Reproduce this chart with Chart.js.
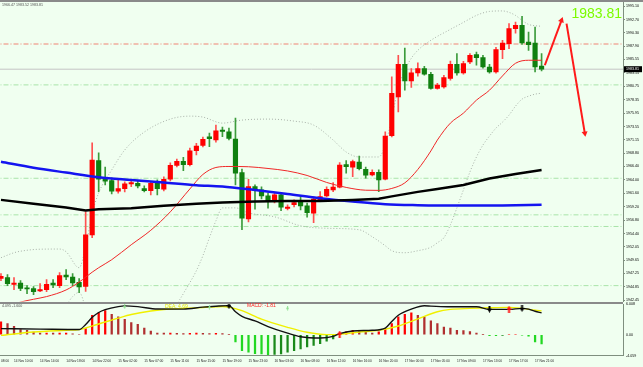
<!DOCTYPE html>
<html>
<head>
<meta charset="utf-8">
<title>XAUUSD H1</title>
<script src="https://cdn.jsdelivr.net/npm/chart.js@4.4.0/dist/chart.umd.min.js"></script>
<style>
  body { margin: 0; background: #f0fff0; }
  #wrap { position: relative; width: 643px; height: 367px; overflow: hidden; background: #f0fff0; }
  #topbar { position: absolute; left: 0; top: 0; width: 643px; height: 2px; background: #8a8a8a; }
  #sep { position: absolute; left: 0; top: 302px; width: 623px; height: 2px; background: #8a8a8a; }
  #main { position: absolute; left: 0; top: 0; }
  #macd { position: absolute; left: 0; top: 302px; }
</style>
</head>
<body>
<div id="wrap">
  <div id="topbar"></div>
  <div id="sep"></div>
  <canvas id="main" width="643" height="304"></canvas>
  <canvas id="macd" width="643" height="65"></canvas>
</div>
<script>
'use strict';

// ---------- data ----------
const timeTickBars = [0, 2, 6, 10, 14, 18, 22, 26, 30, 34, 38, 42, 46, 50, 54, 58, 62, 66, 70, 74, 78, 82];
const timeTickLabels = ['08:00', '14 Nov 10:00', '14 Nov 14:00', '14 Nov 18:00', '14 Nov 22:00', '15 Nov 02:00',
  '15 Nov 07:00', '15 Nov 11:00', '15 Nov 15:00', '15 Nov 19:00', '15 Nov 23:00', '16 Nov 03:00', '16 Nov 08:00',
  '16 Nov 12:00', '16 Nov 16:00', '16 Nov 20:00', '17 Nov 00:00', '17 Nov 05:00', '17 Nov 09:00', '17 Nov 13:00',
  '17 Nov 17:00', '17 Nov 21:00'];
const priceTicks = [1995.10, 1992.70, 1990.30, 1987.90, 1985.55, 1983.15, 1980.75, 1978.35, 1975.95, 1973.55,
  1971.15, 1968.80, 1966.40, 1964.00, 1961.60, 1959.20, 1956.80, 1954.40, 1952.05, 1949.65, 1947.25, 1944.85, 1942.45];
const macdTicks = [6.008, 0, -4.059];

const opens = [1946.38, 1946.50, 1945.30, 1945.55, 1944.59, 1944.54, 1944.13, 1944.36, 1945.55, 1945.07,
  1946.98, 1946.62, 1945.66, 1944.95, 1954.17, 1967.44, 1964.12, 1963.87, 1961.97, 1962.44,
  1963.28, 1963.40, 1962.44, 1962.08, 1963.40, 1962.33, 1964.12, 1966.61, 1967.33, 1966.72,
  1969.22, 1970.18, 1971.72, 1971.13, 1972.92, 1972.61, 1971.31, 1965.29, 1957.03, 1962.80,
  1962.21, 1961.14, 1960.30, 1961.31, 1958.87, 1959.58, 1960.12, 1959.35, 1958.05, 1960.42,
  1961.14, 1962.21, 1962.69, 1966.72, 1966.26, 1967.20, 1965.90, 1964.88, 1965.37, 1964.12,
  1971.90, 1978.86, 1984.69, 1981.71, 1983.14, 1983.93, 1982.91, 1980.36, 1980.64, 1982.14,
  1984.69, 1983.14, 1985.11, 1986.43, 1985.89, 1984.21, 1983.32, 1987.32, 1988.39, 1991.07,
  1991.66, 1988.67, 1988.50, 1984.39];
const highs = [1947.21, 1947.04, 1946.50, 1945.96, 1945.07, 1944.89, 1945.43, 1946.14, 1946.14, 1947.39,
  1947.93, 1947.21, 1946.32, 1958.28, 1970.65, 1968.86, 1966.31, 1964.35, 1963.99, 1963.63,
  1963.99, 1963.81, 1962.92, 1963.69, 1963.99, 1964.53, 1967.03, 1967.74, 1968.04, 1969.70,
  1970.54, 1971.67, 1972.38, 1973.81, 1973.45, 1973.27, 1975.06, 1965.95, 1964.12, 1963.10,
  1962.74, 1961.67, 1961.67, 1961.72, 1959.53, 1960.42, 1961.01, 1959.83, 1960.96, 1961.90,
  1962.74, 1963.51, 1967.08, 1967.44, 1967.56, 1968.27, 1966.31, 1965.78, 1965.78, 1972.61,
  1982.43, 1986.30, 1987.60, 1983.93, 1984.93, 1984.34, 1983.27, 1981.30, 1982.73, 1985.28,
  1986.60, 1985.23, 1986.60, 1986.89, 1986.30, 1984.69, 1987.73, 1988.98, 1991.96, 1992.24,
  1993.26, 1990.46, 1991.35, 1986.60];
const lows = [1945.96, 1945.07, 1944.36, 1944.18, 1943.64, 1943.47, 1944.00, 1944.00, 1944.72, 1944.72,
  1946.14, 1945.07, 1943.82, 1944.05, 1953.64, 1961.90, 1963.10, 1961.49, 1961.62, 1961.85,
  1962.80, 1962.56, 1961.85, 1961.31, 1961.31, 1962.03, 1963.81, 1966.31, 1965.65, 1966.49,
  1968.45, 1969.88, 1969.93, 1970.77, 1971.72, 1971.13, 1963.10, 1955.07, 1956.49, 1958.76,
  1960.60, 1958.94, 1959.89, 1958.51, 1958.64, 1959.17, 1958.64, 1957.33, 1956.32, 1960.30,
  1960.96, 1961.90, 1962.56, 1965.19, 1964.58, 1965.78, 1964.29, 1964.71, 1961.90, 1963.99,
  1971.67, 1976.18, 1980.05, 1980.54, 1982.55, 1982.73, 1980.23, 1980.23, 1980.41, 1981.84,
  1982.73, 1982.91, 1984.82, 1984.52, 1983.98, 1983.09, 1983.09, 1985.71, 1987.50, 1990.28,
  1988.26, 1987.19, 1983.32, 1983.50];
const closes = [1946.73, 1945.43, 1945.55, 1944.59, 1944.48, 1944.00, 1944.36, 1945.30, 1945.20, 1946.86,
  1946.62, 1945.55, 1944.84, 1954.17, 1967.56, 1964.12, 1963.76, 1961.97, 1962.44, 1963.28,
  1963.51, 1962.92, 1962.08, 1963.40, 1962.44, 1964.12, 1966.61, 1967.33, 1966.72, 1969.22,
  1970.06, 1971.26, 1971.36, 1972.79, 1972.68, 1971.43, 1965.19, 1957.15, 1962.80, 1962.08,
  1961.14, 1960.30, 1961.31, 1959.12, 1959.12, 1959.94, 1959.35, 1958.15, 1960.55, 1961.01,
  1962.33, 1962.69, 1966.67, 1966.36, 1967.26, 1966.01, 1964.83, 1965.37, 1963.99, 1971.84,
  1979.47, 1984.69, 1981.71, 1983.14, 1983.93, 1982.91, 1980.36, 1980.95, 1982.32, 1984.69,
  1983.14, 1984.82, 1986.30, 1985.89, 1984.21, 1983.32, 1987.32, 1988.50, 1991.07, 1991.66,
  1988.50, 1988.21, 1984.21, 1983.81];

// moving averages, sampled at bar positions
const redMaBars = [0, 3, 5, 7, 10, 12, 13, 14, 15, 17, 20, 23, 26, 29, 31, 33, 35, 38, 41, 44, 47, 50, 53, 56, 58,
  60, 62, 64, 66, 67, 69, 71, 73, 75, 77, 79, 81, 83];
const redMaValues = [1941.0, 1942.13, 1942.63, 1943.11, 1944.30, 1945.70, 1946.59, 1947.48, 1948.28, 1949.71,
  1952.39, 1954.98, 1958.28, 1962.38, 1964.97, 1966.22, 1966.40, 1966.35, 1966.04, 1965.60, 1964.79, 1963.54,
  1962.65, 1962.15, 1962.12, 1962.47, 1963.46, 1965.87, 1969.17, 1971.13, 1974.16, 1975.95, 1978.27, 1980.05,
  1982.61, 1984.87, 1985.41, 1985.41];
const blueMaBars = [0, 5, 10, 15, 20, 25, 30, 34, 39, 44, 49, 54, 59, 64, 70, 77, 83];
const blueMaValues = [1967.24, 1966.17, 1965.31, 1964.49, 1963.99, 1963.53, 1963.06, 1962.81, 1962.17, 1961.47,
  1960.72, 1960.12, 1959.65, 1959.48, 1959.40, 1959.42, 1959.53];
const blackMaBars = [0, 5, 10, 13, 15, 20, 25, 30, 34, 39, 44, 49, 54, 58, 60, 64, 67, 71, 75, 79, 83];
const blackMaValues = [1960.42, 1959.71, 1959.06, 1958.53, 1958.76, 1958.94, 1959.35, 1959.71, 1959.96, 1960.12,
  1960.24, 1960.24, 1960.42, 1960.64, 1961.05, 1961.85, 1962.38, 1963.10, 1964.26, 1965.06, 1965.78];

// bollinger bands
const bbUpperBars = [0, 2, 3, 6, 9, 10, 12, 13, 14, 15, 17, 19, 22, 26, 29, 31, 34, 37, 41, 45, 48, 51, 53, 55,
  58, 59, 60, 61, 62, 63, 64, 66, 69, 71, 73, 75, 77, 78, 79, 80, 81, 83];
const bbUpperValues = [1950.07, 1950.96, 1951.23, 1951.59, 1951.62, 1951.14, 1948.28, 1952.03, 1957.92, 1961.67,
  1965.78, 1969.35, 1972.56, 1974.88, 1975.41, 1975.24, 1974.16, 1974.70, 1974.88, 1974.52, 1973.81, 1971.13,
  1968.99, 1968.10, 1968.10, 1970.24, 1975.06, 1980.41, 1983.62, 1985.77, 1987.19, 1988.98, 1990.94, 1992.19,
  1993.44, 1994.15, 1994.24, 1993.98, 1993.44, 1992.55, 1991.83, 1991.48];
const bbLowerBars = [0, 8, 10, 11, 12, 13, 14, 20, 26, 27, 28, 29, 30, 31, 32, 33, 34, 36, 38, 42, 46, 50, 55, 57,
  59, 60, 62, 64, 66, 67, 68, 69, 70, 71, 72, 73, 74, 75, 76, 77, 78, 79, 80, 81, 82, 83];
const bbLowerValues = [1939.5, 1940.0, 1941.6, 1943.11, 1943.88, 1940.8, 1935.0, 1930.0, 1938.0, 1941.50, 1943.64,
  1945.61, 1947.75, 1950.43, 1953.64, 1956.67, 1958.99, 1958.99, 1958.10, 1957.39, 1955.78, 1955.34, 1955.07,
  1953.82, 1952.21, 1951.32, 1950.96, 1951.32, 1951.94, 1952.75, 1953.64, 1955.96, 1958.99, 1962.21, 1965.42,
  1968.10, 1970.24, 1971.84, 1973.27, 1974.34, 1975.59, 1977.20, 1978.45, 1978.98, 1979.34, 1979.52];

// horizontal levels
const greenLevels = [1981.00, 1964.29, 1957.74, 1955.66, 1945.07];
const redLevels = [1988.32];

// forecast arrows drawn on the chart (bar, price)
const upArrowBars = [83.5, 86.06];
const upArrowPrices = [1984.52, 1992.55];
const downArrowBars = [86.83, 89.64];
const downArrowPrices = [1991.96, 1972.33];

// MACD panel
const macdHist = [2.5, 2.2, 1.65, 1.0, 0.87, 0.53, 0.34, 0.34, 0.3, 0.3,
  0.3, 0.2, 0.1, 1.2, 3.8, 4.3, 4.7, 4.0, 3.5, 3.0,
  2.4, 2.05, 1.3, 0.73, 0.34, 0.3, 0.3, 0.28, 0.25, 0.28,
  0.3, 0.28, 0.25, 0.28, 0.25, 0.05, -1.4, -3.1, -3.4, -3.7,
  -3.75, -3.9, -3.85, -3.75, -3.4, -3.1, -2.75, -2.4, -2.1, -1.75,
  -1.25, -0.8, 0.2, 0.55, 0.87, 0.8, 0.55, 0.34, 0.55, 1.2,
  2.2, 3.5, 4.0, 4.3, 3.8, 3.5, 2.7, 2.2, 1.5, 1.3,
  0.87, 0.8, 0.6, 0.34, 0.05, -0.2, -0.2, -0.15, 0.1, 0.1,
  -0.1, -0.3, -1.4, -1.81];
const difBars = [0, 6, 12, 13, 14, 15, 16, 18, 19, 21, 24, 28, 31, 33, 35, 36, 37, 39, 41, 44, 46, 49, 51, 52, 54,
  57, 59, 60, 61, 63, 65, 66, 69, 73, 75, 78, 80, 81, 82, 83];
const difValues = [1.20, 1.10, 1.01, 2.0, 3.4, 4.35, 4.9, 5.5, 5.65, 5.5, 5.02, 5.01, 5.4, 5.58, 5.7, 4.5, 3.6,
  2.7, 1.6, 0.3, -0.4, -0.65, -0.32, 0.22, 0.73, 0.87, 1.3, 2.6, 3.8, 5.0, 5.66, 5.6, 5.46, 5.46, 4.95, 4.95,
  5.15, 5.0, 4.6, 4.28];
const deaBars = [0, 5, 10, 12, 15, 18, 20, 23, 25, 28, 31, 34, 35, 37, 40, 44, 47, 50, 52, 55, 58, 61, 64, 67, 69,
  72, 75, 78, 80, 82, 83];
const deaValues = [-0.12, 0.53, 0.87, 1.01, 2.1, 3.25, 3.95, 4.64, 4.93, 5.15, 5.33, 5.52, 5.4, 4.7, 3.05, 1.45,
  0.48, 0.02, 0.08, 0.53, 0.85, 1.7, 3.1, 4.5, 4.95, 5.15, 5.28, 5.35, 5.15, 4.8, 4.67];
const sellArrowBars = [35, 75, 80];
const sellArrowValues = [5.7, 5.0, 5.15];
const buyArrowBars = [52, 78];
const buyArrowValues = [0.14, 5.0];
const hintArrowBars = [19, 32, 44];
const hintArrowValues = [5.5, 5.4, 5.2];

const headerText = '1966.47 1983.52 1983.81';
const macdHeaderText = '4.095 -1.600';
const deaText = 'DEA: 4.69';
const macdText = 'MACD: -1.81';

// ---------- helpers ----------
const xMin = -0.15;
const xMax = 95.5;
const bullColor = '#ff0000';
const bearColor = '#108010';
const fontFamily = '"Liberation Sans", Arial, sans-serif';

function pts(xs, ys) {
  return xs.map((x, i) => ({ x: x, y: ys[i] }));
}

function levelLine(value, color, dash) {
  return {
    type: 'line',
    data: [{ x: xMin - 1, y: value }, { x: xMax + 1, y: value }],
    borderColor: color,
    borderWidth: 1,
    borderDash: dash,
    pointRadius: 0,
    order: 20
  };
}

function arrowImage(color, dir, w, h) {
  const c = document.createElement('canvas');
  c.width = w;
  c.height = h;
  const g = c.getContext('2d');
  g.fillStyle = color;
  const sw = Math.max(1, Math.round(w / 3));
  const headH = Math.round(h / 2);
  if (dir === 'down') {
    g.fillRect((w - sw) / 2, 0, sw, h - headH);
    g.beginPath(); g.moveTo(0, h - headH); g.lineTo(w, h - headH); g.lineTo(w / 2, h); g.closePath(); g.fill();
  } else {
    g.fillRect((w - sw) / 2, headH, sw, h - headH);
    g.beginPath(); g.moveTo(0, headH); g.lineTo(w, headH); g.lineTo(w / 2, 0); g.closePath(); g.fill();
  }
  return c;
}

function isBull(i) {
  return closes[i] >= opens[i];
}

function histColor(ctx) {
  const i = ctx.dataIndex;
  const v = macdHist[i];
  const prev = i > 0 ? macdHist[i - 1] : v;
  if (v >= 0) {
    return v >= prev ? '#ff0000' : '#b03030';
  }
  return v <= prev ? '#22d822' : '#1a8a1a';
}

// ---------- main price panel ----------
const datasets = [];
greenLevels.forEach(v => datasets.push(levelLine(v, '#a8e4a8', [5, 2, 1, 2])));
redLevels.forEach(v => datasets.push(levelLine(v, '#f08474', [5, 2, 1, 2])));
datasets.push(levelLine(closes[closes.length - 1], '#c4c4c4', []));

datasets.push({
  type: 'line', data: pts(bbUpperBars, bbUpperValues), borderColor: '#a8b0a8', borderWidth: 1,
  borderDash: [1, 2], pointRadius: 0, cubicInterpolationMode: 'monotone', order: 15
});
datasets.push({
  type: 'line', data: pts(bbLowerBars, bbLowerValues), borderColor: '#a8b0a8', borderWidth: 1,
  borderDash: [1, 2], pointRadius: 0, cubicInterpolationMode: 'monotone', order: 15
});

// wicks then bodies
datasets.push({
  type: 'bar',
  data: lows.map((l, i) => ({ x: i, y: [l, highs[i]] })),
  backgroundColor: ctx => isBull(ctx.dataIndex) ? '#ff5050' : '#3c9c3c',
  barThickness: 1,
  grouped: false,
  order: 10
});
datasets.push({
  type: 'bar',
  data: opens.map((o, i) => ({ x: i, y: [o, closes[i]] })),
  backgroundColor: ctx => isBull(ctx.dataIndex) ? bullColor : bearColor,
  barThickness: 4.5,
  minBarLength: 1,
  grouped: false,
  order: 9
});

datasets.push({
  type: 'line', data: pts(redMaBars, redMaValues), borderColor: '#f02828', borderWidth: 1,
  pointRadius: 0, cubicInterpolationMode: 'monotone', order: 5
});
datasets.push({
  type: 'line', data: pts(blueMaBars, blueMaValues), borderColor: '#1414f0', borderWidth: 2.5,
  pointRadius: 0, cubicInterpolationMode: 'monotone', order: 4
});
datasets.push({
  type: 'line', data: pts(blackMaBars, blackMaValues), borderColor: '#000000', borderWidth: 2.5,
  pointRadius: 0, order: 3
});

datasets.push({
  type: 'line', data: pts(upArrowBars, upArrowPrices), borderColor: '#ff1a1a', borderWidth: 2,
  pointRadius: [0, 3.5], pointStyle: 'triangle', pointRotation: [0, 20],
  pointBackgroundColor: '#ff1a1a', pointBorderWidth: 0, order: 1
});
datasets.push({
  type: 'line', data: pts(downArrowBars, downArrowPrices), borderColor: '#ff1a1a', borderWidth: 2,
  pointRadius: [0, 3.5], pointStyle: 'triangle', pointRotation: [0, 171],
  pointBackgroundColor: '#ff1a1a', pointBorderWidth: 0, order: 1
});

const mainTextPlugin = {
  id: 'mainText',
  afterDraw(chart) {
    const ctx = chart.ctx;
    const area = chart.chartArea;
    const last = closes[closes.length - 1];
    ctx.save();
    ctx.font = '3.6px ' + fontFamily;
    ctx.fillStyle = '#505050';
    ctx.textAlign = 'left';
    ctx.textBaseline = 'middle';
    ctx.fillText(headerText, 2, 5);

    ctx.font = '14px ' + fontFamily;
    ctx.fillStyle = '#7cfc00';
    ctx.textAlign = 'right';
    ctx.textBaseline = 'alphabetic';
    ctx.fillText(last.toFixed(2), area.right - 1, 18);

    // current price tag on the axis
    const py = chart.scales.y.getPixelForValue(last);
    ctx.fillStyle = '#000';
    ctx.fillRect(area.right + 1, py - 3, 18, 6);
    ctx.fillStyle = '#fff';
    ctx.font = '3.6px ' + fontFamily;
    ctx.textAlign = 'left';
    ctx.textBaseline = 'middle';
    ctx.fillText(last.toFixed(2), area.right + 3, py);
    ctx.restore();
  }
};

new Chart(document.getElementById('main'), {
  type: 'bar',
  data: { datasets: datasets },
  options: {
    responsive: false,
    animation: false,
    layout: { autoPadding: false, padding: { top: 2, bottom: 2, left: 0, right: 0 } },
    plugins: { legend: { display: false }, tooltip: { enabled: false } },
    scales: {
      x: { type: 'linear', offset: false, min: xMin, max: xMax, display: false },
      y: {
        position: 'right',
        min: 1942.22,
        max: 1995.76,
        afterFit(scale) { scale.width = 20; },
        afterBuildTicks(scale) { scale.ticks = priceTicks.map(v => ({ value: v })); },
        grid: { drawOnChartArea: false, drawTicks: true, tickLength: 2, tickColor: '#7f8f7f' },
        border: { display: true, color: '#7f8f7f', width: 1 },
        ticks: {
          padding: 1,
          color: '#000',
          font: { size: 3.6, family: fontFamily, lineHeight: 0.8 },
          callback: v => Number(v).toFixed(2)
        }
      }
    }
  },
  plugins: [mainTextPlugin]
});

// ---------- MACD panel ----------
const sellImg = arrowImage('#000000', 'down', 5, 7);
const buyImg = arrowImage('#ff1010', 'up', 5, 7);
const hintImg = arrowImage('#8ee08e', 'down', 3, 5);

const macdTextPlugin = {
  id: 'macdText',
  afterDraw(chart) {
    const ctx = chart.ctx;
    ctx.save();
    ctx.textAlign = 'left';
    ctx.textBaseline = 'middle';
    ctx.font = '3.6px ' + fontFamily;
    ctx.fillStyle = '#505050';
    ctx.fillText(macdHeaderText, 2, 4);
    ctx.font = '5px ' + fontFamily;
    ctx.fillStyle = '#e6e600';
    ctx.fillText(deaText, 165, 4.5);
    ctx.fillStyle = '#ff2020';
    ctx.fillText(macdText, 247, 3.5);
    ctx.restore();
  }
};

new Chart(document.getElementById('macd'), {
  type: 'bar',
  data: {
    datasets: [
      {
        type: 'line', data: pts(sellArrowBars, sellArrowValues), showLine: false,
        pointStyle: sellImg, pointRadius: 3, order: 1
      },
      {
        type: 'line', data: pts(buyArrowBars, buyArrowValues), showLine: false,
        pointStyle: buyImg, pointRadius: 3, order: 1
      },
      {
        type: 'line', data: pts(hintArrowBars, hintArrowValues), showLine: false,
        pointStyle: hintImg, pointRadius: 3, order: 1
      },
      {
        type: 'line', data: pts(difBars, difValues), borderColor: '#111111', borderWidth: 1.4,
        pointRadius: 0, cubicInterpolationMode: 'monotone', order: 2
      },
      {
        type: 'line', data: pts(deaBars, deaValues), borderColor: '#f0f000', borderWidth: 1.4,
        pointRadius: 0, cubicInterpolationMode: 'monotone', order: 3
      },
      {
        type: 'bar', data: macdHist.map((v, i) => ({ x: i, y: v })), backgroundColor: histColor,
        barThickness: 1.6, grouped: false, order: 4
      }
    ]
  },
  options: {
    responsive: false,
    animation: false,
    layout: { autoPadding: false, padding: { top: 2, bottom: 0, left: 0, right: 0 } },
    plugins: { legend: { display: false }, tooltip: { enabled: false } },
    scales: {
      x: {
        type: 'linear',
        offset: false,
        min: xMin,
        max: xMax,
        afterFit(scale) { scale.height = 11.5; },
        afterBuildTicks(scale) { scale.ticks = timeTickBars.map(v => ({ value: v })); },
        grid: { offset: false, drawOnChartArea: false, drawTicks: true, tickLength: 3, tickColor: 'rgba(0,0,0,0)' },
        border: { display: true, color: '#7f8f7f', width: 1 },
        ticks: {
          autoSkip: false,
          maxRotation: 0,
          align: 'start',
          padding: 1,
          color: '#222',
          font: { size: 3.2, family: fontFamily, lineHeight: 1 },
          callback: (v, i) => timeTickLabels[i]
        }
      },
      y: {
        position: 'right',
        min: -4.059,
        max: 6.008,
        afterFit(scale) { scale.width = 20; },
        afterBuildTicks(scale) { scale.ticks = macdTicks.map(v => ({ value: v })); },
        grid: { drawOnChartArea: false, drawTicks: true, tickLength: 3, tickColor: 'rgba(0,0,0,0)' },
        border: { display: true, color: '#7f8f7f', width: 1 },
        ticks: {
          padding: 0,
          color: '#000',
          font: { size: 3.6, family: fontFamily, lineHeight: 0.8 },
          callback: v => (v === 0 ? '0.00' : Number(v).toFixed(3))
        }
      }
    }
  },
  plugins: [macdTextPlugin]
});
</script>
</body>
</html>
